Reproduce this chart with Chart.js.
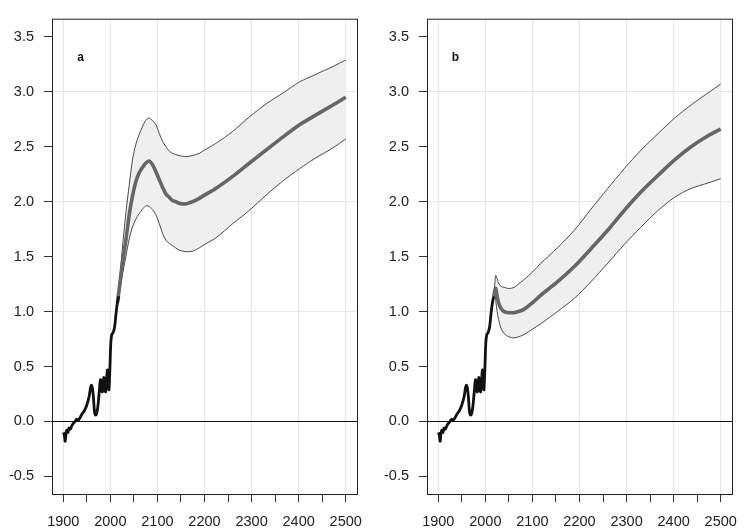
<!DOCTYPE html>
<html><head><meta charset="utf-8">
<script src="https://cdn.jsdelivr.net/npm/chart.js@4/dist/chart.umd.min.js"></script>
<style>
html,body{margin:0;padding:0;background:#fff;}
#wrap{position:relative;width:751px;height:531px;overflow:hidden;background:#fff;}
.p{position:absolute;top:0;height:531px;}
</style></head><body>
<div id="wrap">
<div class="p" style="left:0;width:375px"><canvas id="ca" width="375" height="531"></canvas></div>
<div class="p" style="left:375px;width:376px"><canvas id="cb" width="376" height="531"></canvas></div>
</div>
<script>
// ---- data ----
const histYears = [1900,1902,1904,1906,1908,1910,1912,1915,1918,1921,1925,1928,1931,1935,1940,1945,1950,1955,1958,1960,1962,1964,1966,1968,1970,1973,1976,1979,1981,1983,1986,1988,1990,1992,1994,1996,1997,1999,2001,2003,2006,2009,2012,2015,2018];
const histValues = [-0.10,-0.12,-0.18,-0.10,-0.08,-0.10,-0.06,-0.07,-0.04,-0.02,0.00,0.02,0.01,0.03,0.07,0.10,0.15,0.23,0.31,0.33,0.30,0.22,0.10,0.06,0.06,0.12,0.25,0.38,0.31,0.27,0.40,0.30,0.27,0.38,0.47,0.36,0.29,0.48,0.72,0.79,0.81,0.86,0.98,1.08,1.14];

const aMeanYears = [2015,2020,2025,2033,2040,2047,2054,2061,2068,2075,2082,2089,2096,2104,2111,2118,2125,2132,2139,2146,2153,2160,2168,2175,2189,2200,2224,2260,2295,2331,2367,2402,2437,2473,2500];
const aMeanValues = [1.08,1.25,1.42,1.65,1.88,2.05,2.18,2.26,2.31,2.35,2.37,2.34,2.28,2.20,2.13,2.07,2.04,2.01,2.00,1.985,1.98,1.98,1.99,2.00,2.03,2.06,2.12,2.23,2.35,2.47,2.59,2.70,2.79,2.88,2.95];
const aBandYears = [2015,2020,2025,2033,2040,2047,2054,2061,2068,2075,2082,2089,2097,2104,2111,2118,2125,2132,2146,2160,2175,2189,2200,2224,2260,2295,2331,2367,2402,2437,2473,2500];
const aUpperValues = [1.08,1.30,1.55,1.90,2.15,2.38,2.52,2.61,2.68,2.74,2.76,2.74,2.70,2.62,2.55,2.50,2.46,2.44,2.42,2.41,2.42,2.44,2.47,2.53,2.64,2.77,2.89,2.99,3.09,3.16,3.23,3.29];
const aLowerValues = [1.08,1.18,1.32,1.50,1.66,1.77,1.84,1.89,1.93,1.96,1.96,1.93,1.88,1.80,1.71,1.65,1.62,1.60,1.56,1.545,1.55,1.58,1.61,1.67,1.80,1.92,2.06,2.19,2.30,2.40,2.49,2.57];

const bBandYears = [2018,2020,2022,2025,2028,2033,2040,2050,2061,2070,2082,2100,2118,2153,2189,2224,2260,2295,2331,2367,2402,2437,2473,2500];
const bMeanValues = [1.14,1.19,1.21,1.14,1.08,1.03,1.00,0.99,0.99,1.00,1.02,1.08,1.15,1.27,1.41,1.57,1.74,1.92,2.09,2.24,2.38,2.50,2.60,2.66];
const bUpperValues = [1.14,1.25,1.33,1.30,1.26,1.23,1.22,1.21,1.22,1.25,1.29,1.36,1.44,1.58,1.74,1.93,2.12,2.30,2.47,2.62,2.76,2.88,2.99,3.07];
const bLowerValues = [1.14,1.15,1.10,1.00,0.93,0.85,0.80,0.77,0.76,0.77,0.79,0.84,0.89,1.00,1.12,1.27,1.44,1.61,1.77,1.92,2.04,2.12,2.17,2.21];

const xTicks = [1900,1950,2000,2050,2100,2150,2200,2250,2300,2350,2400,2450,2500];
const yTicks = [-0.5,0,0.5,1,1.5,2,2.5,3,3.5];
const panelLabels = ['a','b'];

// ---- drawing ----
const FONT = "'Liberation Sans', Arial, Helvetica, sans-serif";
const pts = (xs, ys) => xs.map((x, i) => ({x: x, y: ys[i]}));

const boxPlugin = {
  id: 'box',
  afterDatasetsDraw(chart) {
    const a = chart.chartArea, c = chart.ctx;
    c.save();
    c.strokeStyle = '#222';
    c.lineWidth = 1;
    c.strokeRect(a.left + 0.5, a.top + 0.5, a.right - a.left, a.bottom - a.top);
    c.restore();
  },
  afterDraw(chart) {
    const a = chart.chartArea, c = chart.ctx;
    c.save();
    c.fillStyle = '#111';
    c.font = 'bold 12px ' + FONT;
    c.textAlign = 'center';
    c.textBaseline = 'middle';
    c.fillText(chart.options.plugins.box.label, a.left + 28.5, a.top + 39);
    c.restore();
  }
};

function makeChart(id, label, padRight, meanYears, meanVals, bandYears, upVals, loVals) {
  return new Chart(document.getElementById(id), {
    type: 'line',
    data: {
      datasets: [
        {data: pts(histYears, histValues), borderColor: '#111', borderWidth: 2.8, tension: 0.35, pointRadius: 0, fill: false},
        {data: pts(meanYears, meanVals), borderColor: '#666', borderWidth: 3.6, tension: 0.3, pointRadius: 0, fill: false},
        {data: pts(bandYears, upVals), borderColor: '#4a4a4a', borderWidth: 1, tension: 0.3, pointRadius: 0, fill: '+1', backgroundColor: '#efefef'},
        {data: pts(bandYears, loVals), borderColor: '#4a4a4a', borderWidth: 1, tension: 0.3, pointRadius: 0, fill: false}
      ]
    },
    options: {
      responsive: false,
      animation: false,
      devicePixelRatio: 1,
      layout: {padding: {left: 0, right: padRight, top: 17, bottom: 0}},
      plugins: {
        legend: {display: false},
        tooltip: {enabled: false},
        filler: {drawTime: 'beforeDatasetsDraw'},
        box: {label: label}
      },
      scales: {
        x: {
          type: 'linear', min: 1876, max: 2524,
          afterBuildTicks: s => { s.ticks = xTicks.map(v => ({value: v})); },
          afterFit: s => { s.height = 37; },
          border: {display: false},
          grid: {
            color: ctx => (ctx.tick && ctx.tick.value % 100 === 0) ? '#e6e6e6' : 'rgba(0,0,0,0)',
            tickColor: '#333', tickLength: 8, lineWidth: 1, drawOnChartArea: true
          },
          ticks: {
            autoSkip: false, maxRotation: 0, minRotation: 0, padding: 11,
            color: '#222', font: {family: FONT, size: 14.5},
            callback: v => (v % 100 === 0 ? String(v) : '')
          }
        },
        y: {
          type: 'linear', min: -0.66, max: 3.665,
          afterBuildTicks: s => { s.ticks = yTicks.map(v => ({value: v})); },
          afterFit: s => { s.width = 52; },
          border: {display: false},
          grid: {
            color: ctx => {
              if (!ctx.tick) return 'rgba(0,0,0,0)';
              const v = ctx.tick.value;
              if (v === 0) return '#111';
              return Number.isInteger(v) ? '#e6e6e6' : 'rgba(0,0,0,0)';
            },
            tickColor: '#333', tickLength: 8, lineWidth: 1
          },
          ticks: {
            autoSkip: false, padding: 10, color: '#222',
            font: {family: FONT, size: 14.5},
            callback: v => Number(v).toFixed(1)
          }
        }
      }
    },
    plugins: [boxPlugin]
  });
}

makeChart('ca', panelLabels[0], 18, aMeanYears, aMeanValues, aBandYears, aUpperValues, aLowerValues);
makeChart('cb', panelLabels[1], 19, bBandYears, bMeanValues, bBandYears, bUpperValues, bLowerValues);
</script>
</body></html>
